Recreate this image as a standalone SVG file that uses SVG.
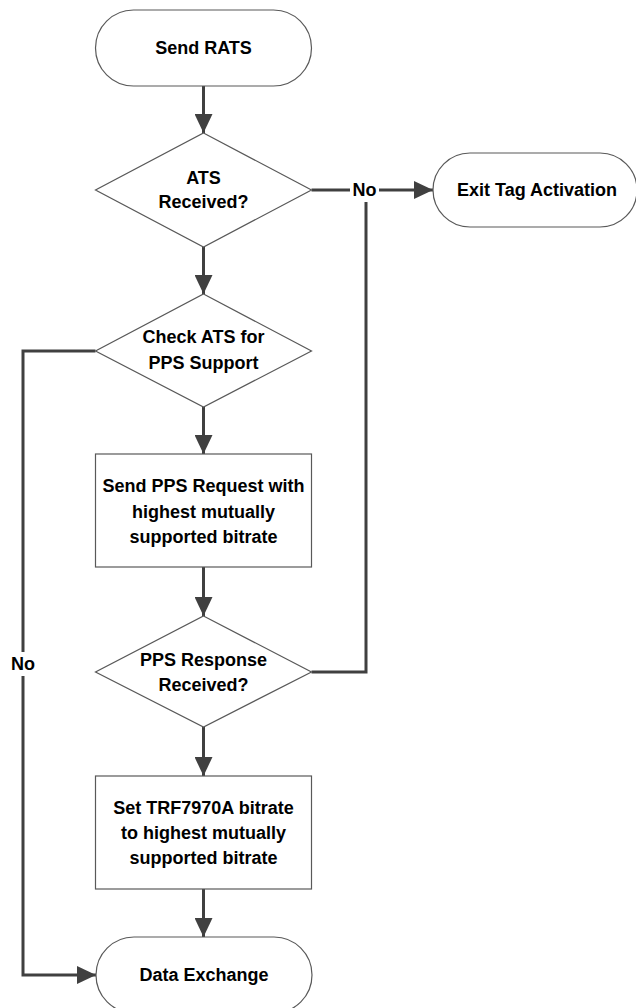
<svg xmlns="http://www.w3.org/2000/svg" width="636" height="1008" viewBox="0 0 636 1008">
  <style>
    .shape { fill: #ffffff; stroke: #595959; stroke-width: 1.2; }
    .label { font-family: "Liberation Sans", Arial, sans-serif; font-weight: bold; font-size: 18px; fill: #000000; text-anchor: middle; }
    .conn { fill: none; stroke: #404040; stroke-width: 3; }
  </style>
  <defs>
    <marker id="arrow" markerUnits="userSpaceOnUse" markerWidth="20" markerHeight="18" refX="19" refY="9" orient="auto">
      <path d="M0,0 L19,9 L0,18 Z" fill="#404040"/>
    </marker>
  </defs>

  <rect width="636" height="1008" fill="#ffffff"/>

  <!-- connectors -->
  <g id="connectors">
    <line class="conn" x1="203.5" y1="86" x2="203.5" y2="133" marker-end="url(#arrow)"/>
    <line class="conn" x1="203.5" y1="247" x2="203.5" y2="294" marker-end="url(#arrow)"/>
    <line class="conn" x1="203.5" y1="407" x2="203.5" y2="454" marker-end="url(#arrow)"/>
    <line class="conn" x1="203.5" y1="567" x2="203.5" y2="616" marker-end="url(#arrow)"/>
    <line class="conn" x1="203.5" y1="727" x2="203.5" y2="776" marker-end="url(#arrow)"/>
    <line class="conn" x1="203.5" y1="889" x2="203.5" y2="937" marker-end="url(#arrow)"/>
    <!-- ATS not received: exit -->
    <line class="conn" x1="311.5" y1="190" x2="433" y2="190" marker-end="url(#arrow)"/>
    <!-- PPS response not received: joins the exit path -->
    <polyline class="conn" points="311.5,672 366,672 366,190"/>
    <!-- no PPS support: straight to data exchange -->
    <polyline class="conn" points="95.5,351 23,351 23,975 96,975" marker-end="url(#arrow)"/>
    <!-- branch labels -->
    <rect x="350" y="180" width="29" height="22" fill="#ffffff"/>
    <text class="label" x="364.5" y="196">No</text>
    <rect x="8" y="652" width="30" height="24" fill="#ffffff"/>
    <text class="label" x="23" y="670">No</text>
  </g>

  <g id="send-rats">
    <rect class="shape" x="95.5" y="10" width="216" height="76" rx="38" ry="38"/>
    <text class="label" x="203.5" y="54">Send RATS</text>
  </g>

  <g id="ats-received">
    <polygon class="shape" points="203.5,133 311.5,190 203.5,247 95.5,190"/>
    <text class="label" x="203.5" y="184">ATS</text>
    <text class="label" x="203.5" y="208">Received?</text>
  </g>

  <g id="exit-tag-activation">
    <rect class="shape" x="433" y="153" width="204" height="74" rx="37" ry="37"/>
    <text class="label" x="537" y="196">Exit Tag Activation</text>
  </g>

  <g id="check-pps-support">
    <polygon class="shape" points="203.5,294 311.5,351 203.5,407 95.5,351"/>
    <text class="label" x="203.5" y="343">Check ATS for</text>
    <text class="label" x="203.5" y="369">PPS Support</text>
  </g>

  <g id="send-pps-request">
    <rect class="shape" x="95.5" y="454" width="216" height="113"/>
    <text class="label" x="203.5" y="492">Send PPS Request with</text>
    <text class="label" x="203.5" y="518">highest mutually</text>
    <text class="label" x="203.5" y="543">supported bitrate</text>
  </g>

  <g id="pps-response-received">
    <polygon class="shape" points="203.5,616 311.5,672 203.5,727 95.5,672"/>
    <text class="label" x="203.5" y="666">PPS Response</text>
    <text class="label" x="203.5" y="691">Received?</text>
  </g>

  <g id="set-bitrate">
    <rect class="shape" x="95.5" y="776" width="216" height="113"/>
    <text class="label" x="203.5" y="814">Set TRF7970A bitrate</text>
    <text class="label" x="203.5" y="839">to highest mutually</text>
    <text class="label" x="203.5" y="864">supported bitrate</text>
  </g>

  <g id="data-exchange">
    <rect class="shape" x="96" y="937" width="216" height="76" rx="38" ry="38"/>
    <text class="label" x="204" y="981">Data Exchange</text>
  </g>
</svg>
